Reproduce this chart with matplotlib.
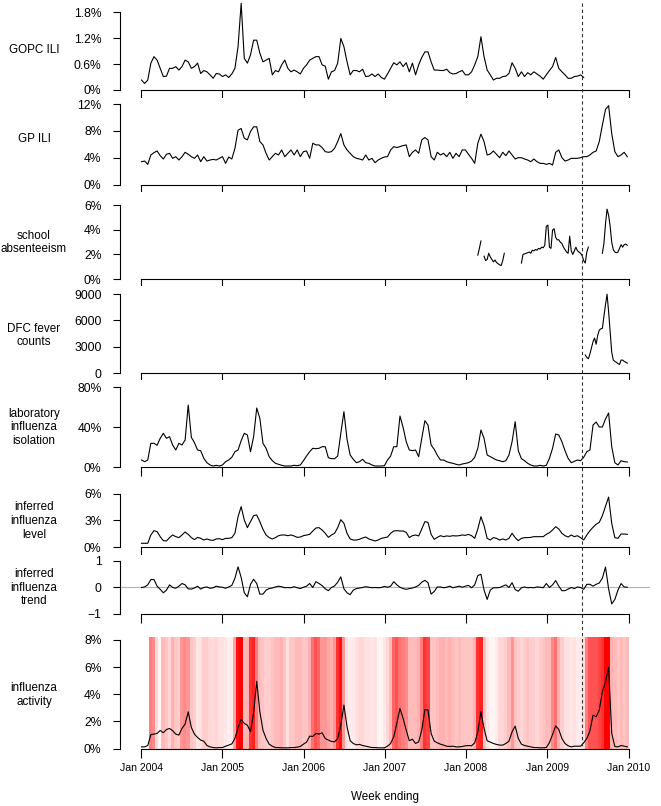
import numpy as np
import pandas as pd
import matplotlib
matplotlib.use('Agg')
import matplotlib.pyplot as plt
import matplotlib.dates as mdates
from matplotlib.colors import LinearSegmentedColormap
from matplotlib.lines import Line2D
from matplotlib.transforms import blended_transform_factory

plt.rcParams['font.family'] = ['Liberation Sans', 'DejaVu Sans']

# fortnightly series, first week ending 2004-01-03
gopc_ili = [0.23, 0.15, 0.23, 0.62, 0.77, 0.69, 0.50, 0.31, 0.32, 0.50,
            0.50, 0.54, 0.46, 0.54, 0.69, 0.65, 0.50, 0.54, 0.62, 0.38,
            0.45, 0.42, 0.35, 0.27, 0.38, 0.37, 0.31, 0.35, 0.29, 0.37,
            0.50, 1.00, 2.00, 0.73, 0.62, 0.81, 1.15, 1.15, 0.85, 0.65,
            0.69, 0.73, 0.35, 0.45, 0.42, 0.58, 0.69, 0.50, 0.42, 0.46,
            0.42, 0.37, 0.50, 0.58, 0.69, 0.73, 0.77, 0.77, 0.58, 0.55,
            0.25, 0.42, 0.45, 0.62, 1.19, 1.00, 0.65, 0.35, 0.45, 0.45,
            0.42, 0.48, 0.31, 0.32, 0.37, 0.31, 0.37, 0.29, 0.25, 0.37,
            0.50, 0.63, 0.58, 0.65, 0.54, 0.63, 0.42, 0.62, 0.35, 0.58,
            0.75, 0.88, 0.88, 0.65, 0.46, 0.46, 0.45, 0.45, 0.48, 0.40,
            0.37, 0.38, 0.42, 0.45, 0.35, 0.35, 0.42, 0.58, 0.77, 1.23,
            0.77, 0.46, 0.35, 0.23, 0.27, 0.27, 0.31, 0.32, 0.38, 0.63,
            0.50, 0.31, 0.42, 0.31, 0.40, 0.35, 0.42, 0.37, 0.32, 0.25,
            0.35, 0.45, 0.54, 0.75, 0.50, 0.42, 0.35, 0.27, 0.27, 0.31,
            0.32, 0.35, 0.29]

gp_ili = [3.40, 3.50, 3.00, 4.40, 4.75, 5.00, 4.30, 3.80, 4.50, 4.65,
          3.90, 4.15, 3.65, 4.15, 4.80, 4.50, 4.15, 3.90, 4.40, 3.40,
          4.15, 3.50, 3.65, 3.75, 3.65, 3.90, 4.15, 3.15, 4.10, 3.80,
          5.40, 8.10, 8.35, 6.90, 6.65, 7.90, 8.60, 8.60, 6.40, 5.90,
          4.65, 3.65, 4.15, 4.65, 4.40, 5.15, 4.15, 4.65, 5.15, 4.40,
          5.15, 4.15, 4.90, 5.00, 3.90, 6.15, 5.90, 5.90, 5.50, 4.90,
          4.80, 4.90, 5.40, 6.40, 7.60, 5.90, 5.15, 4.65, 4.15, 3.90,
          3.80, 3.65, 4.40, 3.65, 3.90, 3.25, 3.65, 3.90, 4.10, 4.15,
          5.15, 5.65, 5.50, 5.65, 5.80, 5.90, 4.15, 4.80, 5.15, 4.65,
          6.65, 7.00, 6.65, 4.15, 3.65, 4.80, 4.40, 4.65, 4.15, 4.80,
          3.90, 4.65, 4.15, 5.15, 5.15, 4.50, 3.90, 3.15, 6.15, 7.50,
          6.40, 4.40, 4.55, 5.00, 4.50, 4.00, 4.80, 4.30, 5.00, 4.40,
          3.80, 4.00, 4.00, 3.80, 3.65, 3.40, 3.80, 3.40, 3.15, 3.15,
          3.00, 3.15, 2.90, 4.80, 5.15, 4.00, 3.50, 3.65, 3.90, 3.90,
          3.90, 4.00, 4.15, 4.15, 4.40, 4.80, 5.00, 6.40, 8.85, 11.20,
          11.75, 7.60, 4.90, 4.15, 4.40, 4.80, 4.15]

lab_isolation = [7, 5.3, 7, 23.7, 23.7, 21.7, 28.7, 33.7, 28.7, 30.3,
                 22, 17, 23.7, 22, 27, 62, 29.7, 24.3, 17, 16.3,
                 8.7, 4.3, 2, 1, 1.7, 1, 2, 5.3, 7, 9.7,
                 15.3, 17, 26.3, 33.7, 32, 15.3, 30.3, 59, 48.7, 23.7,
                 18.7, 10.3, 6.3, 3.7, 2.7, 1.7, 1, 1, 1, 1.7,
                 1.3, 2, 6.3, 11, 15.3, 18.7, 18.3, 18.7, 20.3, 20.3,
                 9.3, 8.3, 8.3, 11, 33.7, 55.3, 27.7, 12, 7.7, 4.3,
                 5.3, 7.7, 4.3, 3.7, 2, 1, 1, 1, 1.3, 7,
                 11, 20.3, 20.3, 51, 39.7, 25.3, 17, 16.3, 17, 10.3,
                 28.7, 46.3, 42, 22, 17.7, 11.7, 7, 7, 5.3, 4.3,
                 3.7, 2.7, 2, 3, 3.7, 4.3, 6, 9.7, 18.7, 37,
                 28.7, 12, 10.3, 8.7, 7, 6.3, 5.3, 6.3, 12, 25.3,
                 45.3, 16.3, 8.3, 6.3, 3.7, 2, 1, 1, 1.7, 1,
                 1.7, 8.7, 18.7, 33, 32, 25.3, 16.3, 8.7, 4.3, 5.7,
                 7, 6.3, 9.7, 15.3, 17, 42, 45, 40, 40, 48,
                 54, 20.3, 4.3, 2, 6.3, 5.3, 5]

flu_level = [0.42, 0.42, 0.42, 1.36, 1.85, 1.74, 1.17, 0.72, 0.68, 1.06,
             1.36, 1.17, 1.06, 1.36, 1.70, 1.43, 1.06, 0.83, 1.09, 0.98,
             0.79, 0.91, 0.79, 0.75, 0.91, 0.94, 0.83, 0.98, 0.98, 1.06,
             1.55, 3.43, 4.57, 3.06, 2.19, 2.87, 3.55, 3.62, 2.87, 2.00,
             1.36, 1.06, 0.91, 1.06, 1.28, 1.36, 1.36, 1.28, 1.36, 1.25,
             1.09, 1.13, 1.28, 1.36, 1.43, 1.81, 2.15, 2.19, 1.92, 1.55,
             1.09, 1.36, 1.55, 2.19, 3.09, 2.68, 1.55, 0.91, 0.79, 0.79,
             0.87, 1.02, 1.13, 0.91, 0.79, 0.68, 0.79, 0.98, 1.06, 1.13,
             1.55, 1.81, 1.85, 1.81, 1.81, 1.66, 1.06, 1.28, 1.36, 1.25,
             2.04, 2.87, 2.79, 1.43, 0.87, 1.09, 1.28, 1.17, 1.25, 1.21,
             1.28, 1.25, 1.28, 1.36, 1.32, 1.43, 1.28, 0.98, 2.04, 3.43,
             2.42, 0.98, 0.79, 1.06, 0.98, 0.79, 0.91, 0.79, 0.98, 1.55,
             1.06, 0.72, 0.98, 1.06, 1.06, 1.09, 1.17, 1.17, 1.17, 1.17,
             1.43, 1.62, 1.92, 2.30, 2.04, 1.55, 1.28, 1.13, 1.36, 1.17,
             1.28, 1.06, 0.79, 1.36, 1.85, 2.23, 2.57, 2.79, 3.55, 4.60,
             5.65, 2.68, 1.06, 0.98, 1.47, 1.47, 1.43]

flu_trend = [0.0, 0.02, 0.1, 0.3, 0.3, 0.05, -0.07, -0.2, -0.1, 0.1,
             0.0, -0.03, 0.05, 0.15, 0.1, -0.05, -0.06, -0.02, 0.05, -0.06,
             0.0, 0.02, -0.03, -0.01, 0.05, 0.02, 0.01, -0.03, 0.02, 0.08,
             0.35, 0.78, 0.38, -0.2, -0.35, 0.12, 0.31, 0.15, -0.25, -0.25,
             -0.1, -0.04, -0.02, 0.02, 0.05, 0.03, -0.01, 0.0, -0.01, 0.03,
             -0.01, -0.04, 0.01, 0.05, 0.15, 0.0, 0.22, 0.15, 0.07, -0.05,
             -0.12, 0.0, 0.06, 0.2, 0.4, -0.05, -0.2, -0.27, -0.1, -0.04,
             -0.02, 0.0, 0.03, 0.01, -0.01, 0.0, -0.01, 0.0, 0.04, 0.01,
             0.05, 0.22, 0.1, 0.01, -0.04, -0.07, -0.04, -0.02, 0.02, 0.08,
             0.2, 0.27, 0.18, -0.25, -0.15, 0.02, 0.02, -0.01, 0.01, 0.05,
             -0.01, 0.02, 0.05, 0.01, 0.05, 0.08, -0.01, 0.1, 0.45, 0.5,
             -0.1, -0.45, -0.1, -0.01, -0.01, 0.0, 0.05, 0.1, 0.0, 0.18,
             -0.08, -0.14, -0.01, 0.02, -0.01, 0.0, -0.01, 0.02, 0.01, -0.01,
             0.15, 0.0, 0.1, 0.26, 0.05, -0.12, -0.12, -0.06, 0.0, -0.04,
             0.02, 0.0, -0.07, 0.12, 0.12, 0.05, 0.12, 0.17, 0.35, 0.77,
             -0.05, -0.62, -0.45, -0.1, 0.15, 0.02, 0.01]

flu_activity = [0.12, 0.12, 0.22, 1.03, 1.06, 1.11, 1.33, 1.16, 1.40, 1.48,
                1.31, 1.06, 0.99, 1.48, 1.80, 2.70, 1.55, 1.06, 0.81, 0.62,
                0.54, 0.22, 0.12, 0.07, 0.05, 0.07, 0.07, 0.17, 0.25, 0.34,
                0.74, 1.55, 2.14, 1.85, 1.72, 1.23, 2.64, 4.95, 2.71, 1.35,
                0.74, 0.32, 0.17, 0.07, 0.07, 0.05, 0.05, 0.05, 0.07, 0.07,
                0.10, 0.15, 0.32, 0.47, 0.91, 0.89, 1.11, 1.06, 1.16, 0.74,
                0.62, 0.52, 0.49, 0.74, 1.72, 3.20, 1.60, 0.57, 0.37, 0.27,
                0.30, 0.22, 0.17, 0.12, 0.07, 0.07, 0.05, 0.05, 0.05, 0.17,
                0.37, 0.86, 1.85, 2.96, 2.22, 1.35, 0.57, 0.69, 0.37, 0.49,
                1.35, 2.88, 2.83, 1.11, 0.54, 0.42, 0.32, 0.25, 0.17, 0.15,
                0.17, 0.12, 0.12, 0.15, 0.20, 0.22, 0.20, 0.42, 1.23, 2.71,
                1.48, 0.57, 0.47, 0.37, 0.30, 0.25, 0.25, 0.37, 0.54, 1.23,
                1.65, 0.74, 0.32, 0.22, 0.17, 0.12, 0.07, 0.07, 0.05, 0.05,
                0.07, 0.44, 1.03, 1.67, 1.40, 0.74, 0.37, 0.20, 0.12, 0.17,
                0.17, 0.17, 0.42, 0.74, 1.31, 2.46, 2.34, 2.83, 4.19, 4.90,
                6.00, 1.11, 0.15, 0.12, 0.22, 0.17, 0.12]

# shading intensity (0 = white, 1 = red), fortnightly from 2004-02-14
heat_level = [0.6, 0.55, 0.2, 0.05, 0.35, 0.3, 0.2,
              0.4, 0.3, 0.25, 0.5, 0.55, 0.5, 0.3, 0.25, 0.12, 0.15,
              0.25, 0.25, 0.2, 0.18, 0.2, 0.15, 0.15, 0.12, 0.08, 0.1,
              0.45, 0.95, 1.0, 0.35, 0.4, 0.85, 0.9, 0.6, 0.35, 0.3,
              0.25, 0.25, 0.3, 0.35, 0.35, 0.4, 0.3, 0.15, 0.3, 0.3,
              0.35, 0.35, 0.3, 0.3, 0.4, 0.65, 0.75, 0.7, 0.5, 0.5,
              0.45, 0.4, 0.5, 0.85, 0.95, 0.5, 0.15, 0.1, 0.1, 0.15,
              0.2, 0.2, 0.15, 0.15, 0.12, 0.15, 0.05, 0.05, 0.12, 0.2,
              0.35, 0.7, 0.75, 0.65, 0.6, 0.55, 0.35, 0.35, 0.35, 0.4,
              0.6, 0.85, 0.8, 0.3, 0.3, 0.35, 0.4, 0.4, 0.35, 0.4,
              0.35, 0.3, 0.35, 0.3, 0.3, 0.3, 0.3, 0.4, 0.85, 0.9,
              0.3, 0.12, 0.05, 0.05, 0.1, 0.2, 0.2, 0.25, 0.35, 0.5,
              0.3, 0.25, 0.2, 0.25, 0.3, 0.25, 0.25, 0.2, 0.25, 0.3,
              0.35, 0.35, 0.55, 0.65, 0.4, 0.25, 0.15, 0.15, 0.12, 0.15,
              0.1, 0.1, 0.15, 0.6, 0.75, 0.75, 0.75, 0.8, 0.85, 1.0,
              1.0, 0.4, 0.35, 0.3, 0.35, 0.3, 0.35]

# weekly from 2008-02-23, gaps as None
school_absent = [1.95, 2.5, 3.1, None,
                 1.86, 1.5, 1.6, 2.1, 1.8, 1.6, 1.4, 1.55, 1.35, 1.25, 1.15, 1.1, 1.5, 2.1,
                 None, None, None, None, None, None, None, None, None, None,
                 1.3, 2.0, 2.05, 2.1, 2.15, 2.2, 2.1, 2.35, 2.3, 2.4, 2.35,
                 2.5, 2.45, 2.6, 2.55, 2.75, 4.3, 4.4, 2.6, 2.5, 4.0, 4.1,
                 3.4, 3.2, 3.2, 3.0, 2.9, 2.6, 2.4, 2.2, 2.1, 3.5, 2.3,
                 2.0, 2.3, 2.6, 2.3, 2.2, 2.1, 1.9, 1.5, 1.3, 2.2, 2.6,
                 None, None, None, None, None, None, None, None,
                 2.1, 2.9, 4.5, 5.7, 5.2, 4.3, 3.0, 2.4, 2.2, 2.15, 2.2,
                 2.5, 2.8, 2.6, 2.8, 2.85, 2.75]

# weekly from 2009-06-20
dfc_fever = [2080, 1800, 1650, 2200, 2900, 3600, 4000, 3300, 4300, 4900,
             5050, 5100, 6500, 7770, 8980, 7000, 4700, 2400, 1500, 1350,
             1250, 1100, 1000, 1500, 1500, 1350, 1250, 1150]

years = list(range(2004, 2011))
cutoff = '2009-06-06'


def dnum(start, n, step):
    return mdates.date2num(pd.date_range(start, periods=n, freq=step).to_pydatetime())


x_fort = dnum('2004-01-03', len(gp_ili), '14D')
x_heat = dnum('2004-02-14', len(heat_level), '14D')
x_school = dnum('2008-02-23', len(school_absent), '7D')
x_dfc = dnum('2009-06-20', len(dfc_fever), '7D')
x_ticks = mdates.date2num([pd.Timestamp(f'{y}-01-01').to_pydatetime() for y in years])

W, H = 661, 806
fig = plt.figure(figsize=(W / 100, H / 100), dpi=100)
left_px, right_px = 119.5, 650.2
xlim = (x_ticks[0] - 97, x_ticks[-1] + 97)


def panel(bottom_px, top_px, ylim, yticks, ylabels, label, label_y, last=False):
    ax = fig.add_axes([left_px / W, 1 - bottom_px / H,
                       (right_px - left_px) / W, (bottom_px - top_px) / H])
    ax.set_xlim(*xlim)
    ax.set_ylim(*ylim)
    for s in ['top', 'right']:
        ax.spines[s].set_visible(False)
    ax.spines['left'].set_bounds(yticks[0], yticks[-1])
    ax.spines['bottom'].set_bounds(x_ticks[0], x_ticks[-1])
    for s in ['left', 'bottom']:
        ax.spines[s].set_linewidth(0.8)
    ax.set_yticks(yticks)
    ax.set_yticklabels(ylabels)
    ax.set_xticks(x_ticks)
    if last:
        ax.set_xticklabels([f'Jan {y}' for y in years])
    else:
        ax.set_xticklabels([])
    ax.tick_params(axis='y', direction='out', length=5, width=0.8, pad=8, labelsize=8.7)
    ax.tick_params(axis='x', direction='out', length=6.3, width=0.8, pad=4, labelsize=7.6)
    fig.text(34 / W, 1 - label_y / H, label, ha='center', va='center',
             multialignment='center', fontsize=8.4, linespacing=1.2)
    return ax


ax1 = panel(90, 3, (0, 2.008), [0, 0.6, 1.2, 1.8], ['0%', '0.6%', '1.2%', '1.8%'],
            'GOPC ILI', 50)
ax1.plot(x_fort[:len(gopc_ili)], gopc_ili, color='black', lw=0.8)

ax2 = panel(184.5, 97.5, (0, 12.97), [0, 4, 8, 12], ['0%', '4%', '8%', '12%'],
            'GP ILI', 138.5)
ax2.plot(x_fort, gp_ili, color='black', lw=0.8)

ax3 = panel(279, 192, (0, 7.1), [0, 2, 4, 6], ['0%', '2%', '4%', '6%'],
            'school\nabsenteeism', 242.5)
ax3.plot(x_school, np.array(school_absent, dtype=float), color='black', lw=0.8)

ax4 = panel(373.3, 286.3, (0, 9874), [0, 3000, 6000, 9000], ['0', '3000', '6000', '9000'],
            'DFC fever\ncounts', 335.5)
ax4.plot(x_dfc, dfc_fever, color='black', lw=0.8)

ax5 = panel(467, 380, (0, 87), [0, 40, 80], ['0%', '40%', '80%'],
            'laboratory\ninfluenza\nisolation', 427.5)
ax5.plot(x_fort, lab_isolation, color='black', lw=0.8)

ax6 = panel(547, 487, (0, 6.79), [0, 3, 6], ['0%', '3%', '6%'],
            'inferred\ninfluenza\nlevel', 520.7)
ax6.plot(x_fort, flu_level, color='black', lw=0.8)

ax7 = panel(614, 555, (-1, 1.226), [-1, 0, 1], ['\u22121', '0', '1'],
            'inferred\ninfluenza\ntrend', 587.7)
ax7.axhline(0, color='#b3b3b3', lw=0.8)
ax7.plot(x_fort, flu_trend, color='black', lw=0.8)

ax8 = panel(748.5, 637, (0, 8.22), [0, 2, 4, 6, 8], ['0%', '2%', '4%', '6%', '8%'],
            'influenza\nactivity', 695, last=True)
cmap = LinearSegmentedColormap.from_list(
    'white_red', [(0, '#ffffff'), (0.4, '#ffb0b0'), (0.7, '#ff6464'), (1, '#ff0000')])
ax8.imshow(np.array(heat_level)[None, :], cmap=cmap, vmin=0, vmax=1, aspect='auto',
           interpolation='nearest',
           extent=(x_heat[0] - 7, x_heat[-1] + 7, 0, 8.22), zorder=0)
ax8.set_xlim(*xlim)
ax8.set_ylim(0, 8.22)
ax8.plot(x_fort, flu_activity, color='black', lw=0.8, zorder=2)

fig.text(385 / W, 1 - 797 / H, 'Week ending', ha='center', va='center', fontsize=8.4)

# cut-off date across all panels
tr = blended_transform_factory(ax8.transData, fig.transFigure)
xc = mdates.date2num(pd.Timestamp(cutoff).to_pydatetime())
fig.add_artist(Line2D([xc, xc], [1 - 3 / H, 1 - 748 / H], transform=tr,
                      color='#333333', lw=0.8, linestyle=(0, (3, 2.5))))

fig.savefig('out.png', dpi=100)
